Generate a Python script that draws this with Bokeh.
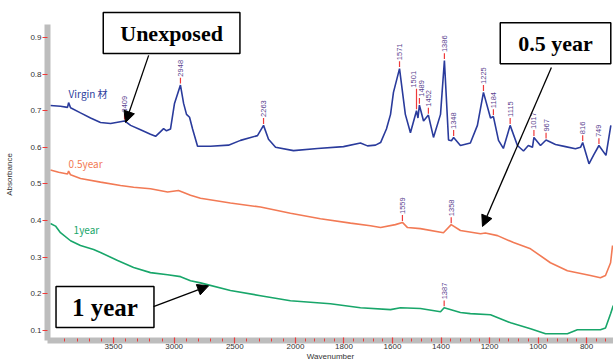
import numpy as np
from bokeh.plotting import figure
from bokeh.models import Range1d, FixedTicker, Label, Arrow, NormalHead, ColumnDataSource
from bokeh.core.properties import value
from bokeh.embed import file_html
from bokeh.resources import INLINE

# ---------------- data (wavenumber cm-1, absorbance) ----------------
virgin_wn = [4020, 3937, 3879, 3870, 3854, 3772, 3689, 3607, 3524, 3409, 3359, 3277, 3195, 3153,
             3112, 3087, 3063, 3030, 2997, 2948, 2922, 2898, 2873, 2848, 2807, 2700, 2552, 2453,
             2313, 2263, 2222, 2164, 2016, 1909, 1802, 1732, 1703, 1670, 1649, 1625, 1608, 1596,
             1571, 1547, 1526, 1501, 1495, 1489, 1472, 1452, 1431, 1402, 1386, 1369, 1357, 1348,
             1320, 1279, 1250, 1225, 1196, 1184, 1163, 1143, 1115, 1085, 1060, 1040, 1023, 1017,
             990, 967, 928, 887, 846, 825, 816, 790, 770, 749, 720, 700]
virgin_abs = [0.714, 0.712, 0.709, 0.722, 0.708, 0.694, 0.680, 0.668, 0.665, 0.672, 0.660, 0.648,
              0.636, 0.630, 0.643, 0.651, 0.645, 0.650, 0.720, 0.770, 0.720, 0.690, 0.682, 0.650,
              0.603, 0.603, 0.606, 0.619, 0.632, 0.660, 0.622, 0.600, 0.591, 0.597, 0.602, 0.612,
              0.604, 0.606, 0.613, 0.650, 0.690, 0.750, 0.815, 0.690, 0.640, 0.700, 0.680, 0.715,
              0.672, 0.688, 0.627, 0.690, 0.837, 0.620, 0.618, 0.627, 0.605, 0.612, 0.660, 0.750,
              0.680, 0.684, 0.619, 0.597, 0.660, 0.605, 0.590, 0.605, 0.600, 0.627, 0.605, 0.620,
              0.608, 0.602, 0.596, 0.600, 0.613, 0.555, 0.580, 0.605, 0.578, 0.660]

half_wn = [4020, 3952, 3879, 3870, 3854, 3772, 3607, 3442, 3334, 3195, 3054, 2964, 2865, 2783,
           2536, 2288, 2041, 1897, 1773, 1691, 1649, 1588, 1559, 1538, 1485, 1390, 1358, 1320,
           1237, 1217, 1167, 1101, 1031, 949, 879, 784, 743, 722, 701, 693]
half_abs = [0.538, 0.532, 0.527, 0.535, 0.525, 0.515, 0.505, 0.496, 0.491, 0.487, 0.478, 0.482,
            0.469, 0.461, 0.448, 0.437, 0.420, 0.405, 0.393, 0.386, 0.381, 0.389, 0.395, 0.381,
            0.378, 0.367, 0.389, 0.373, 0.364, 0.366, 0.359, 0.340, 0.323, 0.285, 0.263, 0.250,
            0.244, 0.250, 0.285, 0.332]

one_wn = [4020, 3978, 3937, 3854, 3772, 3664, 3607, 3466, 3334, 3195, 3054, 2947, 2865, 2783,
          2536, 2288, 2041, 1856, 1732, 1608, 1567, 1485, 1402, 1387, 1320, 1279, 1196, 1113,
          1031, 969, 879, 838, 743, 722, 701, 690]
one_abs = [0.392, 0.385, 0.367, 0.345, 0.332, 0.321, 0.313, 0.291, 0.272, 0.258, 0.252, 0.247,
           0.236, 0.230, 0.209, 0.195, 0.181, 0.173, 0.162, 0.157, 0.162, 0.160, 0.151, 0.162,
           0.149, 0.146, 0.143, 0.121, 0.105, 0.091, 0.091, 0.102, 0.102, 0.107, 0.146, 0.168]

virgin_peaks = [3409, 2948, 2263, 1571, 1501, 1489, 1452, 1386, 1348, 1225, 1184, 1115, 1017, 967, 816, 749]
half_peaks = [1559, 1358]
one_peaks = [1387]

x_major = [3500, 3000, 2500, 2000, 1800, 1600, 1400, 1200, 1000, 800]
x_minor = list(range(3900, 2000, -100)) + list(range(1960, 700, -40))
y_ticks = [0.1, 0.2, 0.3, 0.4, 0.5, 0.6, 0.7, 0.8, 0.9]

# ---------------- helpers ----------------
def wx(w):
    """piecewise wavenumber axis: scale doubles below 2000 cm-1"""
    w = np.asarray(w, dtype=float)
    return np.where(w >= 2000, 4000 - w, 2000 + 2 * (2000 - w))

BLUE = "#2a3b9c"
ORANGE = "#f27a55"
GREEN = "#18a66a"
PURPLE = "#5b3f8f"
RED = "#ee3a3a"
GREY = "#bdbdbd"

Y0, Y1 = 0.0727, 0.979
p = figure(width=613, height=363, output_backend="svg", toolbar_location=None,
           x_range=Range1d(float(wx(4044)), float(wx(689))), y_range=Range1d(Y0, Y1),
           min_border_left=47, min_border_right=0, min_border_top=8, min_border_bottom=23)
p.outline_line_color = None
p.xgrid.visible = False
p.ygrid.visible = False
p.background_fill_color = "white"

p.line(wx(virgin_wn), virgin_abs, line_color=BLUE, line_width=1.6)
p.line(wx(half_wn), half_abs, line_color=ORANGE, line_width=1.6)
p.line(wx(one_wn), one_abs, line_color=GREEN, line_width=1.6)

# peak markers
def peak_marks(peaks, wn, ab, stems=None, xoffs=None):
    ys = np.interp(peaks[::-1], wn[::-1], ab[::-1])[::-1]
    stems = stems or [0.02] * len(peaks)
    xoffs = xoffs or [0] * len(peaks)
    top = [y + s for y, s in zip(ys, stems)]
    src = ColumnDataSource(dict(x=wx(peaks), y0=ys + 0.004, y1=top, ty=[t + 0.003 for t in top],
                                txt=[str(v) for v in peaks], xo=xoffs))
    p.segment(x0="x", y0="y0", x1="x", y1="y1", source=src, line_color=RED, line_width=1.2)
    p.text(x="x", y="ty", text="txt", source=src, angle=np.pi / 2, x_offset="xo",
           text_align="left", text_baseline="middle", text_font_size="7.5px",
           text_color=PURPLE, text_font=value("Liberation Sans"))

stems_v = [0.02] * len(virgin_peaks)
xo_v = [0] * len(virgin_peaks)
stems_v[virgin_peaks.index(1501)] = 0.06
xo_v[virgin_peaks.index(1501)] = -3
xo_v[virgin_peaks.index(1489)] = 2
peak_marks(virgin_peaks, virgin_wn, virgin_abs, stems_v, xo_v)
peak_marks(half_peaks, half_wn, half_abs)
peak_marks(one_peaks, one_wn, one_abs)

# series labels
for txt, wn, yy, col in [("Virgin 材", 3870, 0.748, BLUE), ("0.5year", 3870, 0.556, ORANGE),
                         ("1year", 3829, 0.375, GREEN)]:
    p.add_layout(Label(x=float(wx(wn)), y=yy, text=txt, text_color=col, text_font_size="10px",
                       text_font="Noto Sans CJK JP", text_baseline="middle", text_align="left"))

# callouts
for txt, wn, yy, fs, pad in [("Unexposed", 3021, 0.912, "22px", dict(left=17, right=17, top=8, bottom=8)),
                             ("0.5 year", 928, 0.884, "22px", dict(left=18, right=18, top=8, bottom=8)),
                             ("1 year", 3570, 0.164, "25px", dict(left=16, right=16, top=7, bottom=7))]:
    p.add_layout(Label(x=float(wx(wn)), y=yy, text=txt, text_font="Liberation Serif",
                       text_font_style="bold", text_font_size=fs, text_color="black",
                       text_align="center", text_baseline="middle",
                       background_fill_color="white", border_line_color="black",
                       border_line_width=1.5, padding=pad))

for (w0, a0, w1, a1) in [(3210, 0.851, 3400, 0.668), (945, 0.818, 1229, 0.384), (3170, 0.165, 2716, 0.222)]:
    p.add_layout(Arrow(x_start=float(wx(w0)), y_start=a0, x_end=float(wx(w1)), y_end=a1,
                       line_color="black", line_width=1.3,
                       end=NormalHead(size=11, fill_color="black", line_color="black")))

# axes
p.xaxis.ticker = FixedTicker(ticks=list(wx(x_major)), minor_ticks=list(wx(x_minor)))
p.xaxis.major_label_overrides = {float(u): str(w) for u, w in zip(wx(x_major), x_major)}
p.yaxis.ticker = FixedTicker(ticks=y_ticks)
p.yaxis.major_label_overrides = {t: f"{t:.1f}" for t in y_ticks}
p.yaxis.bounds = (Y0, 0.9355)
for ax in (p.xaxis, p.yaxis):
    ax.axis_line_color = GREY
    ax.axis_line_width = 6
    ax.major_tick_line_color = RED
    ax.minor_tick_line_color = RED
    ax.major_tick_line_width = 1.2
    ax.minor_tick_line_width = 1
    ax.major_label_text_font = "Liberation Sans"
    ax.major_label_text_font_size = "8px"
    ax.major_label_text_color = "#333333"
    ax.axis_label_text_font = "Liberation Sans"
    ax.axis_label_text_font_size = "8px"
    ax.axis_label_text_font_style = "normal"
    ax.axis_label_text_color = "#333333"
p.xaxis.major_tick_in = 3
p.xaxis.major_tick_out = 3
p.xaxis.minor_tick_in = 2
p.xaxis.minor_tick_out = 1
p.xaxis.major_label_standoff = 0
p.xaxis.axis_label = "Wavenumber"
p.xaxis.axis_label_standoff = 0
p.yaxis.major_tick_in = 0
p.yaxis.major_tick_out = 5
p.yaxis.minor_tick_line_color = None
p.yaxis.major_label_standoff = 1
p.yaxis.axis_label = "Absorbance"
p.yaxis.axis_label_standoff = 13

open("out.html", "w").write(file_html(p, INLINE))
